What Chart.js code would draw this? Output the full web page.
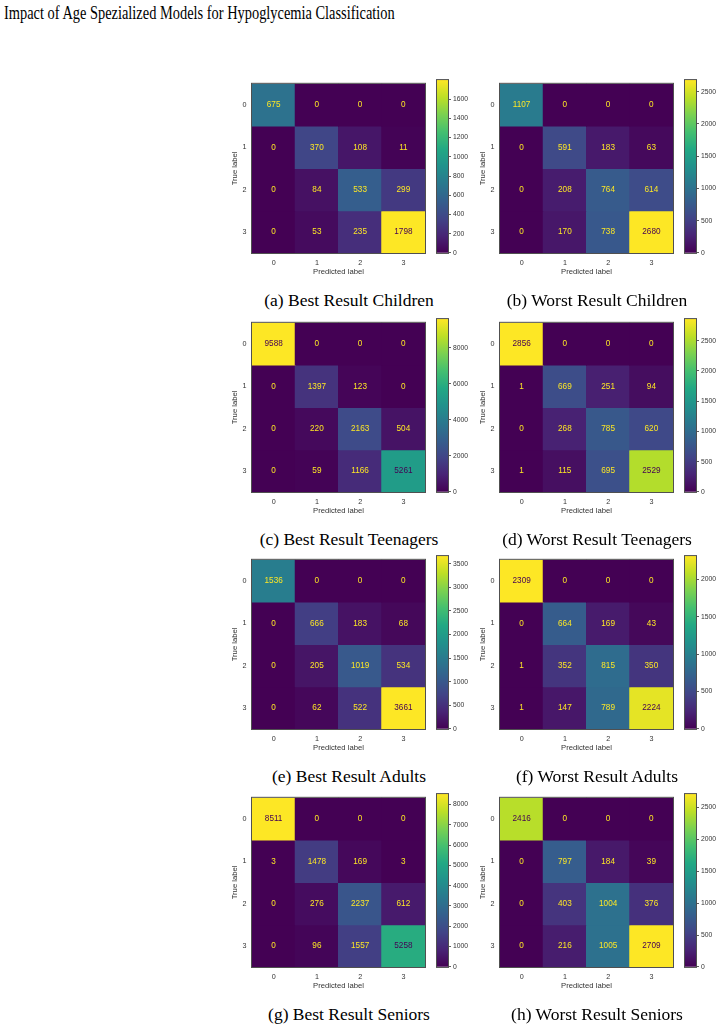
<!DOCTYPE html>
<html lang="en">
<head>
<meta charset="UTF-8">
<title>Impact of Age Spezialized Models for Hypoglycemia Classification</title>
<script src="https://cdn.jsdelivr.net/npm/chart.js"></script>
<style>
  html, body { margin: 0; padding: 0; background: #fff; }
  body { width: 722px; height: 1029px; position: relative; overflow: hidden; }
  .title {
    position: absolute; left: 4px; top: 3px;
    font-family: "Liberation Serif", "Times New Roman", serif;
    font-size: 18px; line-height: 20px; white-space: nowrap; color: #000;
    transform: scaleX(0.8); transform-origin: 0 0;
  }
  .caption {
    position: absolute; width: 300px; margin-left: -150px; text-align: center;
    font-family: "Liberation Serif", "Times New Roman", serif;
    font-size: 17.5px; line-height: 20px; white-space: nowrap; color: #000;
  }
  canvas { position: absolute; }
</style>
</head>
<body>
<div class="title">Impact of Age Spezialized Models for Hypoglycemia Classification</div>

<script>
    // class labels (rows = true label, columns = predicted label)
    const classLabels = ['0', '1', '2', '3'];

    // confusion matrices
    const bestChildren = [[675, 0, 0, 0], [0, 370, 108, 11], [0, 84, 533, 299], [0, 53, 235, 1798]];
    const worstChildren = [[1107, 0, 0, 0], [0, 591, 183, 63], [0, 208, 764, 614], [0, 170, 738, 2680]];
    const bestTeenagers = [[9588, 0, 0, 0], [0, 1397, 123, 0], [0, 220, 2163, 504], [0, 59, 1166, 5261]];
    const worstTeenagers = [[2856, 0, 0, 0], [1, 669, 251, 94], [0, 268, 785, 620], [1, 115, 695, 2529]];
    const bestAdults = [[1536, 0, 0, 0], [0, 666, 183, 68], [0, 205, 1019, 534], [0, 62, 522, 3661]];
    const worstAdults = [[2309, 0, 0, 0], [0, 664, 169, 43], [1, 352, 815, 350], [1, 147, 789, 2224]];
    const bestSeniors = [[8511, 0, 0, 0], [3, 1478, 169, 3], [0, 276, 2237, 612], [0, 96, 1557, 5258]];
    const worstSeniors = [[2416, 0, 0, 0], [0, 797, 184, 39], [0, 403, 1004, 376], [0, 216, 1005, 2709]];

    const panels = [bestChildren, worstChildren, bestTeenagers, worstTeenagers,
                    bestAdults, worstAdults, bestSeniors, worstSeniors];
    const captions = ['(a) Best Result Children', '(b) Worst Result Children',
                      '(c) Best Result Teenagers', '(d) Worst Result Teenagers',
                      '(e) Best Result Adults', '(f) Worst Result Adults',
                      '(g) Best Result Seniors', '(h) Worst Result Seniors'];
    // colorbar tick step per panel
    const colorbarSteps = [200, 500, 2000, 500, 500, 500, 1000, 500];

    // layout
    const colLeft = [252, 500];
    const rowTop = [80, 319, 556, 794];
    const captionX = [349, 597];
    const SIZE = 173;

    const viridisStops = ['#440154', '#482475', '#414487', '#355f8d', '#2a788e', '#21918c',
                          '#22a884', '#44bf70', '#7ad151', '#bddf26', '#fde725'];

    function hexToRgb(h) {
        return [parseInt(h.slice(1, 3), 16), parseInt(h.slice(3, 5), 16), parseInt(h.slice(5, 7), 16)];
    }
    function viridis(t) {
        t = Math.max(0, Math.min(1, t));
        const n = viridisStops.length - 1;
        const i = Math.min(Math.floor(t * n), n - 1);
        const f = t * n - i;
        const a = hexToRgb(viridisStops[i]), b = hexToRgb(viridisStops[i + 1]);
        const c = a.map((v, k) => Math.round(v + (b[k] - v) * f));
        return 'rgb(' + c.join(',') + ')';
    }

    Chart.defaults.font.family = '"Liberation Sans", Arial, sans-serif';
    Chart.defaults.color = '#333';

    const framePlugin = {
        id: 'frame',
        afterDraw(chart) {
            const {ctx, chartArea: a} = chart;
            ctx.save();
            ctx.strokeStyle = '#505050';
            ctx.lineWidth = 1;
            ctx.strokeRect(a.left - 0.5, a.top - 0.5, a.right - a.left + 1, a.bottom - a.top + 1);
            ctx.restore();
        }
    };

    const cellTextPlugin = {
        id: 'cellText',
        afterDatasetsDraw(chart) {
            const ctx = chart.ctx;
            ctx.save();
            ctx.font = '8.2px "Liberation Sans", Arial, sans-serif';
            ctx.textAlign = 'center';
            ctx.textBaseline = 'middle';
            chart.data.datasets.forEach((ds, di) => {
                chart.getDatasetMeta(di).data.forEach((bar, j) => {
                    const p = bar.getCenterPoint();
                    ctx.fillStyle = ds.textColor[j];
                    ctx.fillText(String(ds.counts[j]), p.x, p.y);
                });
            });
            ctx.restore();
        }
    };

    function addCanvas(left, top, w, h) {
        const c = document.createElement('canvas');
        c.width = w;
        c.height = h;
        c.style.left = left + 'px';
        c.style.top = top + 'px';
        document.body.appendChild(c);
        return c;
    }

    function drawMatrix(idx) {
        const counts = panels[idx];
        const col = idx % 2, row = Math.floor(idx / 2);
        const flat = counts.flat();
        const vmax = Math.max(...flat), vmin = Math.min(...flat);
        const thresh = (vmax + vmin) / 2;

        const canvas = addCanvas(colLeft[col] - 32, rowTop[row] - 6, 32 + SIZE + 6, 6 + SIZE + 30);

        const datasets = counts.map((rowVals, r) => ({
            data: rowVals.map(() => [r - 0.5, r + 0.5]),
            counts: rowVals,
            backgroundColor: rowVals.map(v => viridis((v - vmin) / (vmax - vmin))),
            textColor: rowVals.map(v => v < thresh ? viridis(1) : viridis(0)),
            borderWidth: 0,
            inflateAmount: 0.5,
            grouped: false,
            barPercentage: 1,
            categoryPercentage: 1
        }));

        new Chart(canvas, {
            type: 'bar',
            data: {labels: classLabels, datasets: datasets},
            options: {
                responsive: false,
                animation: false,
                events: [],
                layout: {padding: {left: 0, top: 6, right: 6, bottom: 0}},
                plugins: {legend: {display: false}, tooltip: {enabled: false}},
                scales: {
                    x: {
                        type: 'category',
                        offset: true,
                        grid: {display: false, drawTicks: false},
                        border: {display: false},
                        ticks: {padding: 6, font: {size: 7.2}},
                        title: {display: true, text: 'Predicted label', font: {size: 7.7}, padding: {top: 0, bottom: 6}},
                        afterFit: (scale) => { scale.height = 30; }
                    },
                    y: {
                        type: 'linear',
                        min: -0.5,
                        max: 3.5,
                        reverse: true,
                        stacked: false,
                        grid: {display: false, drawTicks: false},
                        border: {display: false},
                        afterBuildTicks: (scale) => { scale.ticks = classLabels.map((_, i) => ({value: i})); },
                        ticks: {padding: 5.5, font: {size: 7.2}, callback: (v) => classLabels[v]},
                        title: {display: true, text: 'True label', font: {size: 7.7}, padding: {top: 10.4, bottom: 0}},
                        afterFit: (scale) => { scale.width = 32; }
                    }
                }
            },
            plugins: [framePlugin, cellTextPlugin]
        });
    }

    function drawColorbar(idx) {
        const counts = panels[idx];
        const col = idx % 2, row = Math.floor(idx / 2);
        const flat = counts.flat();
        const vmax = Math.max(...flat), vmin = Math.min(...flat);
        const step = colorbarSteps[idx];
        const cbLeft = colLeft[col] + SIZE + 12;

        const canvas = addCanvas(cbLeft - 2, rowTop[row] - 6, 2 + 11 + 40, 6 + SIZE + 6);

        new Chart(canvas, {
            type: 'bar',
            data: {
                labels: [''],
                datasets: [{
                    data: [[vmin, vmax]],
                    backgroundColor: (context) => {
                        const area = context.chart.chartArea;
                        if (!area) return viridis(0.5);
                        const g = context.chart.ctx.createLinearGradient(0, area.bottom, 0, area.top);
                        viridisStops.forEach((c, i) => g.addColorStop(i / (viridisStops.length - 1), c));
                        return g;
                    },
                    borderWidth: 0,
                    barPercentage: 1,
                    categoryPercentage: 1
                }]
            },
            options: {
                responsive: false,
                animation: false,
                events: [],
                layout: {padding: {left: 2, top: 6, right: 0, bottom: 6}},
                plugins: {legend: {display: false}, tooltip: {enabled: false}},
                scales: {
                    x: {display: false},
                    y: {
                        position: 'right',
                        min: vmin,
                        max: vmax,
                        grid: {drawOnChartArea: false, drawTicks: true, tickLength: 3, color: '#333', lineWidth: 0.8},
                        border: {display: false},
                        afterBuildTicks: (scale) => {
                            const ticks = [];
                            for (let v = 0; v <= vmax; v += step) ticks.push({value: v});
                            scale.ticks = ticks;
                        },
                        ticks: {padding: 2, font: {size: 6.8}, callback: (v) => String(v)},
                        afterFit: (scale) => { scale.width = 40; }
                    }
                }
            },
            plugins: [framePlugin]
        });
    }

    function addCaption(idx) {
        const col = idx % 2, row = Math.floor(idx / 2);
        const d = document.createElement('div');
        d.className = 'caption';
        d.textContent = captions[idx];
        d.style.left = captionX[col] + 'px';
        d.style.top = (rowTop[row] + 210) + 'px';
        document.body.appendChild(d);
    }

    panels.forEach((_, i) => {
        drawMatrix(i);
        drawColorbar(i);
        addCaption(i);
    });
</script>
</body>
</html>
